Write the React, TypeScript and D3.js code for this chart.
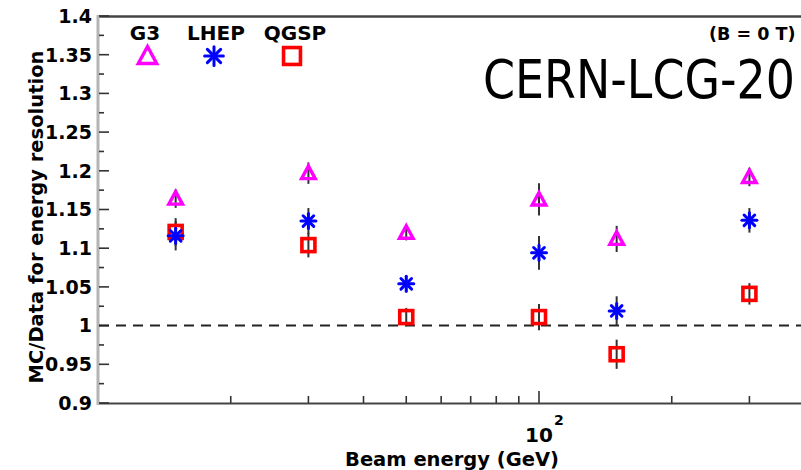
import React from "react";
import * as d3 from "d3";

const energies = [15, 30, 50, 100, 150, 300];
const g3 = [1.164, 1.197, 1.12, 1.163, 1.112, 1.192];
const g3Err = [0.008, 0.01, 0.006, 0.017, 0.013, 0.008];
const lhep = [1.116, 1.135, 1.054, 1.094, 1.019, 1.136];
const lhepErr = [0.015, 0.013, 0.007, 0.018, 0.015, 0.012];
const qgsp = [1.121, 1.104, 1.011, 1.011, 0.963, 1.041];
const qgspErr = [0.014, 0.012, 0.008, 0.013, 0.015, 0.01];
const yMajorTicks = [0.9, 0.95, 1, 1.05, 1.1, 1.15, 1.2, 1.25, 1.3, 1.35, 1.4];
const xMinorTicks = [20, 30, 40, 50, 60, 70, 80, 90, 200, 300];
const seriesNames = ["G3", "LHEP", "QGSP"];

const W = 801;
const H = 470;
const FONT = "'DejaVu Sans', 'Liberation Sans', Arial, sans-serif";
const MAGENTA = "#ff00ff";
const BLUE = "#0000ff";
const RED = "#ff0000";

function Triangle({ cx, cy, s = 1 }: { cx: number; cy: number; s?: number }) {
  const p = `M0,${-7 * s} L${6.8 * s},${5.5 * s} L${-6.8 * s},${5.5 * s} Z`;
  return <path d={p} transform={`translate(${cx},${cy})`} fill="none" stroke={MAGENTA} strokeWidth={3.4} strokeLinejoin="miter" />;
}
function Square({ cx, cy, s = 1 }: { cx: number; cy: number; s?: number }) {
  const h = 6.5 * s;
  return <rect x={cx - h} y={cy - h} width={2 * h} height={2 * h} fill="none" stroke={RED} strokeWidth={3.6} />;
}
function Asterisk({ cx, cy, s = 1 }: { cx: number; cy: number; s?: number }) {
  const r = 7.5 * s;
  const angles = [0, 45, 90, 135];
  return (
    <g transform={`translate(${cx},${cy})`} stroke={BLUE} strokeWidth={3} strokeLinecap="round">
      {angles.map((a) => {
        const rad = (a * Math.PI) / 180;
        const dx = Math.cos(rad) * r;
        const dy = Math.sin(rad) * r;
        return <line key={a} x1={-dx} y1={-dy} x2={dx} y2={dy} />;
      })}
    </g>
  );
}

export default function App() {
  const x = d3.scaleLog().domain([10, 400]).range([98, 98 + Math.log10(40) * 441]);
  const y = d3.scaleLinear().domain([0.9, 1.4]).range([403, 16]);
  const yMinor = d3.range(0, yMajorTicks.length - 1).map((i) => (yMajorTicks[i] + yMajorTicks[i + 1]) / 2);
  const fmt = (v: number) => String(+v.toFixed(2));

  const series = [
    { vals: g3, errs: g3Err, M: Triangle },
    { vals: qgsp, errs: qgspErr, M: Square },
    { vals: lhep, errs: lhepErr, M: Asterisk },
  ];

  return (
    <svg width={W} height={H} style={{ position: "absolute", left: 0, top: 0, background: "#fff" }} fontFamily={FONT}>
      <rect x={0} y={0} width={W} height={H} fill="#fff" />
      {/* top frame */}
      <line x1={97} x2={W} y1={16.5} y2={16.5} stroke="#444" strokeWidth={2.5} />
      {/* x axis */}
      <line x1={97} x2={W} y1={403.5} y2={403.5} stroke="#444" strokeWidth={2} />
      {xMinorTicks.map((t) => (
        <line key={t} x1={x(t)} x2={x(t)} y1={403} y2={396} stroke="#333" strokeWidth={1.6} />
      ))}
      <line x1={x(100)} x2={x(100)} y1={403} y2={391} stroke="#333" strokeWidth={1.6} />
      <text x={525} y={442} fontSize={20} fontWeight="bold" fill="#000">10</text>
      <text x={554} y={425} fontSize={14} fontWeight="bold" fill="#000">2</text>
      <text x={452} y={466} textAnchor="middle" fontSize={19.5} fontWeight="bold" fill="#000">Beam energy (GeV)</text>

      {/* y axis */}
      <line x1={98} x2={98} y1={15} y2={405} stroke="#b4b4b4" strokeWidth={3} />
      {yMajorTicks.map((t) => (
        <g key={t}>
          <line x1={99} x2={109} y1={y(t)} y2={y(t)} stroke="#333" strokeWidth={1.6} />
          <text x={92} y={y(t)} dy="0.36em" textAnchor="end" fontSize={19} fontWeight="bold" fill="#000">{fmt(t)}</text>
        </g>
      ))}
      {yMinor.map((t) => (
        <line key={t} x1={99} x2={104} y1={y(t)} y2={y(t)} stroke="#333" strokeWidth={1.6} />
      ))}
      <text transform={`translate(43,${217}) rotate(-90)`} textAnchor="middle" fontSize={19.5} fontWeight="bold" fill="#000">
        MC/Data for energy resolution
      </text>

      {/* reference line */}
      <line x1={99} x2={W} y1={y(1)} y2={y(1)} stroke="#222" strokeWidth={2} strokeDasharray="10,7" />

      {/* error bars */}
      {series.map((s, si) =>
        energies.map((e, i) => (
          <line key={`${si}-${i}`} x1={x(e)} x2={x(e)} y1={y(s.vals[i] - s.errs[i]) + 3} y2={y(s.vals[i] + s.errs[i]) - 3} stroke="#333" strokeWidth={2} />
        ))
      )}
      {/* markers */}
      {series.map((s, si) =>
        energies.map((e, i) => <s.M key={`m${si}-${i}`} cx={x(e)} cy={y(s.vals[i])} />)
      )}

      {/* legend */}
      <text x={145} y={40} textAnchor="middle" fontSize={20} fontWeight="bold" fill="#000">{seriesNames[0]}</text>
      <text x={216} y={40} textAnchor="middle" fontSize={20} fontWeight="bold" fill="#000">{seriesNames[1]}</text>
      <text x={295} y={40} textAnchor="middle" fontSize={20} fontWeight="bold" fill="#000">{seriesNames[2]}</text>
      <Triangle cx={147.5} cy={56} s={1.35} />
      <Asterisk cx={214} cy={56} s={1.25} />
      <Square cx={292} cy={56} s={1.3} />

      <text x={709} y={40} fontSize={17.5} fontWeight="bold" fill="#000">(B = 0 T)</text>
      <text transform="translate(483,98) scale(0.85,1)" fontSize={54} fill="#000" fontFamily="'Comic Sans MS', 'DejaVu Sans', sans-serif">
        CERN-LCG-20
      </text>
    </svg>
  );
}
